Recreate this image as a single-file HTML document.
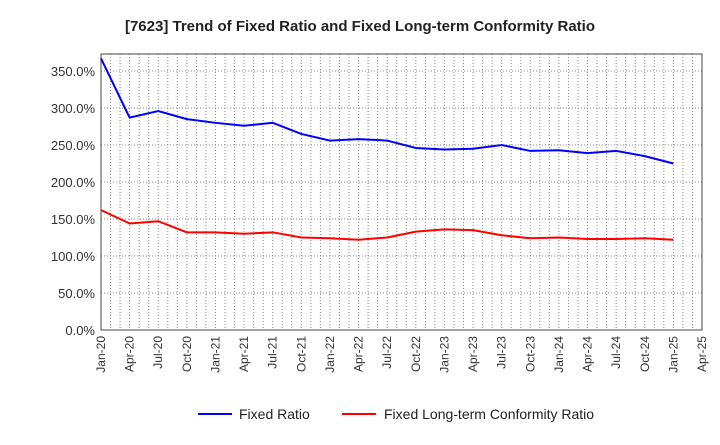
<!DOCTYPE html>
<html><head><meta charset="utf-8"><style>
body{margin:0;background:#fff;font-family:"Liberation Sans",sans-serif;}
</style></head><body>
<svg id="chart" width="720" height="440" xmlns="http://www.w3.org/2000/svg" font-family="Liberation Sans, sans-serif">
<text x="360" y="31" text-anchor="middle" font-size="15" font-weight="bold" fill="#222">[7623]  Trend of Fixed Ratio and Fixed Long-term Conformity Ratio</text>
<g id="grid"></g><g id="axes"></g><g id="series"></g>
<g>
<line x1="198" y1="414" x2="232" y2="414" stroke="#0000ff" stroke-width="2"/>
<text x="239" y="419" font-size="14" fill="#222">Fixed Ratio</text>
<line x1="342" y1="414" x2="376" y2="414" stroke="#ff0000" stroke-width="2"/>
<text x="384" y="419" font-size="14" fill="#222">Fixed Long-term Conformity Ratio</text>
</g>
</svg>
<script>
const xLabels=["Jan-20","Apr-20","Jul-20","Oct-20","Jan-21","Apr-21","Jul-21","Oct-21","Jan-22","Apr-22","Jul-22","Oct-22","Jan-23","Apr-23","Jul-23","Oct-23","Jan-24","Apr-24","Jul-24","Oct-24","Jan-25","Apr-25"];
const yTicks=[0,50,100,150,200,250,300,350];
const fixedRatio=[367,287,296,285,280,276,280,265,256,258,256,246,244,245,250,242,243,239,242,235,225];
const conformityRatio=[162,144,147,132,132,130,132,125,124,122,125,133,136,135,128,124,125,123,123,124,122];
const L=101,R=702,T=54,B=330,yMax=373;
const NS="http://www.w3.org/2000/svg";
const xs=i=>L+(R-L)*i/(xLabels.length-1);
const ys=v=>B-(B-T)*v/yMax;
function mk(tag,attrs,parent){const e=document.createElementNS(NS,tag);for(const k in attrs)e.setAttribute(k,attrs[k]);parent.appendChild(e);return e;}
const grid=document.getElementById('grid'),axes=document.getElementById('axes'),series=document.getElementById('series');
for(let m=1;m<(xLabels.length-1)*3;m++){const x=L+(R-L)*m/((xLabels.length-1)*3);
const g=mk('line',{x1:x,x2:x,y1:T,y2:B,stroke:'#888','stroke-dasharray':'1,2','stroke-width':1},grid);

}
yTicks.forEach(v=>{const y=ys(v);
if(v>0){const g=mk('line',{x1:L,x2:R,y1:y,y2:y,stroke:'#888','stroke-dasharray':'1,2'},grid);

}
const t=mk('text',{x:L-6,y:y+5,'text-anchor':'end','font-size':13,fill:'#333'},axes);t.textContent=v.toFixed(1)+'%';

});
xLabels.forEach((lab,i)=>{const x=xs(i);
const t=mk('text',{x:x+4,y:B+6,'text-anchor':'end','font-size':12,fill:'#333',transform:`rotate(-90 ${x+4} ${B+6})`},axes);t.textContent=lab;

});
const frame=mk('rect',{x:L,y:T,width:R-L,height:B-T,fill:'none',stroke:'#444','stroke-width':1},axes);


function line(data,color,name){const p=mk('polyline',{points:data.map((v,i)=>xs(i)+','+ys(v)).join(' '),fill:'none',stroke:color,'stroke-width':2},series);

}
line(fixedRatio,'#0000ff','fixed-ratio-line');
line(conformityRatio,'#ff0000','fixed-long-term-conformity-ratio-line');
</script>
</body></html>
